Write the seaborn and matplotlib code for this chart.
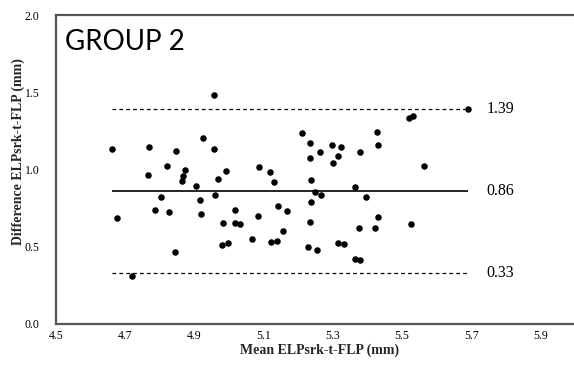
import matplotlib
matplotlib.use("Agg")
import matplotlib.pyplot as plt
import seaborn as sns
import pandas as pd

# Data (Bland-Altman, group 2)
mean_elp = [
    4.958, 4.663, 4.770, 4.848, 4.925, 4.958, 4.820, 4.873, 4.765, 4.867,
    4.864, 4.990, 4.969, 4.905, 4.803, 4.960, 4.916, 4.676, 4.787, 4.826,
    4.919, 5.016, 4.983, 5.018, 5.032, 4.980, 4.996, 4.845, 4.721,
    5.088, 5.118, 5.129, 5.083, 5.066, 5.142, 5.168, 5.156, 5.120, 5.138,
    5.212, 5.234, 5.233, 5.264, 5.297, 5.325, 5.316, 5.300, 5.236, 5.248,
    5.265, 5.237, 5.233, 5.228, 5.253, 5.316, 5.331,
    5.378, 5.364, 5.396, 5.375, 5.363, 5.378, 5.427, 5.430, 5.430, 5.421,
    5.520, 5.532, 5.690, 5.564, 5.527,
]
diff_elp = [
    1.484, 1.133, 1.144, 1.120, 1.200, 1.133, 1.021, 0.997, 0.960, 0.956,
    0.925, 0.990, 0.940, 0.891, 0.823, 0.834, 0.800, 0.681, 0.737, 0.724,
    0.711, 0.737, 0.651, 0.651, 0.646, 0.508, 0.525, 0.464, 0.308,
    1.016, 0.979, 0.919, 0.700, 0.551, 0.763, 0.732, 0.601, 0.527, 0.534,
    1.237, 1.172, 1.073, 1.109, 1.159, 1.146, 1.083, 1.042, 0.930, 0.852,
    0.836, 0.787, 0.657, 0.499, 0.477, 0.521, 0.516,
    1.109, 0.886, 0.823, 0.622, 0.417, 0.410, 1.244, 1.157, 0.690, 0.622,
    1.331, 1.344, 1.391, 1.021, 0.644,
]
limit_values = [1.39, 0.86, 0.33]
limit_labels = ["1.39", "0.86", "0.33"]
limit_styles = ["--", "-", "--"]
x_ticks = [4.5, 4.7, 4.9, 5.1, 5.3, 5.5, 5.7, 5.9]
y_ticks = [0.0, 0.5, 1.0, 1.5, 2.0]
title = "GROUP 2"
x_label = "Mean ELPsrk-t-FLP (mm)"
y_label = "Difference ELPsrk-t-FLP (mm)"

df = pd.DataFrame({"mean": mean_elp, "diff": diff_elp})

sns.set_style("white")
plt.rcParams["font.family"] = ["Liberation Serif", "DejaVu Serif"]

W, H = 574, 368
fig = plt.figure(figsize=(W / 100, H / 100), dpi=100)
ax = fig.add_axes([56 / W, 44.5 / H, 519 / W, 308.5 / H])

sns.scatterplot(data=df, x="mean", y="diff", ax=ax, color="black",
                s=22, edgecolor="black", linewidth=0, zorder=3)

xmin, xmax = min(mean_elp), max(mean_elp)
for val, lab, ls in zip(limit_values, limit_labels, limit_styles):
    if ls == "-":
        ax.hlines(val, xmin, xmax, colors="black", linewidth=1.2, zorder=2)
    else:
        ax.hlines(val, xmin, xmax, colors="black", linewidth=0.9,
                  linestyles=(0, (3, 2.5)), zorder=2)
    ax.text(5.745, val, lab, ha="left", va="center", fontsize=11.5,
            color="black")

ax.set_xlim(4.5, 6.0)
ax.set_ylim(0.0, 2.0)
ax.set_xticks(x_ticks)
ax.set_xticklabels([f"{t:.1f}" for t in x_ticks])
ax.set_yticks(y_ticks)
ax.set_yticklabels([f"{t:.1f}" for t in y_ticks])
ax.tick_params(axis="both", length=0, labelsize=8.5, colors="black")
ax.tick_params(axis="x", pad=5)
ax.tick_params(axis="y", pad=12)

ax.set_xlabel(x_label, fontsize=10, fontweight="bold")
ax.set_ylabel(y_label, fontsize=10, fontweight="bold")
ax.xaxis.set_label_coords(0.507, -0.066)
ax.yaxis.set_label_coords(-0.06, 0.556)

for side in ["left", "bottom", "top"]:
    ax.spines[side].set_color("#555555")
    ax.spines[side].set_linewidth(1.6)
    ax.spines[side].set_visible(True)
ax.spines["right"].set_visible(False)

ax.text((65 - 56) / 519, (323.5 - 50) / 308.5, title,
        transform=ax.transAxes, ha="left", va="baseline", fontsize=20,
        family=["Lato", "DejaVu Sans"], color="black")

fig.savefig("out.png", dpi=100)
